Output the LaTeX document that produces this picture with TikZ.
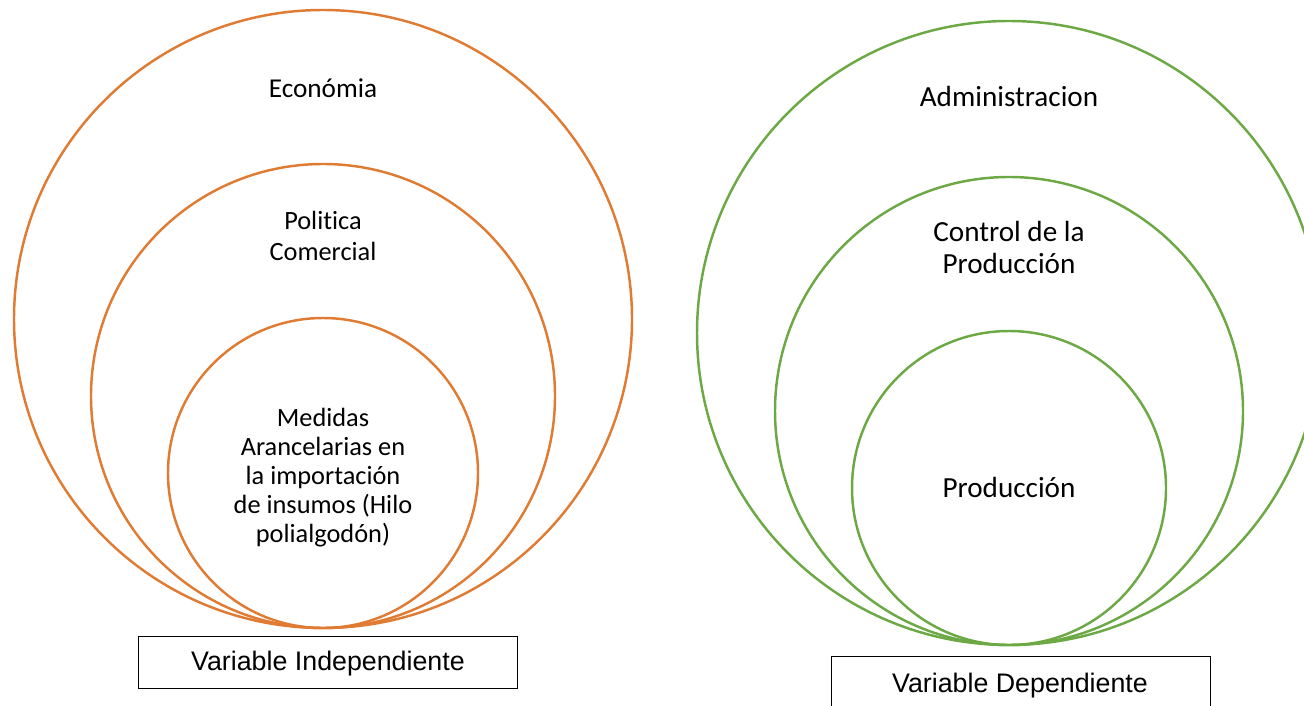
\documentclass[tikz,border=0pt]{standalone}
\usepackage{fontspec}
\setmainfont{Carlito}[Ligatures=NoCommon]
\newfontfamily\arialfont{Liberation Sans}
\definecolor{orng}{HTML}{E07B34}
\definecolor{grn}{HTML}{6CA844}
\begin{document}
\begin{tikzpicture}[x=0.02cm,y=-0.02cm,
  ring/.style={circle,draw,line width=1.4pt,inner sep=0pt,outer sep=0pt},
  lefttxt/.style={anchor=base,align=center,inner sep=0pt,font=\fontsize{15}{16.5}\selectfont},
  righttxt/.style={anchor=base,align=center,inner sep=0pt,font=\fontsize{16.6}{17.9}\selectfont},
  boxtxt/.style={anchor=base,inner sep=0pt,font=\arialfont\fontsize{15.25}{17}\selectfont},
  varbox/.style={draw,line width=0.6pt,inner sep=0pt,minimum width=379*0.02cm,minimum height=52*0.02cm}]
\useasboundingbox (0,0) rectangle (1304,706);
% left
\node[ring,draw=orng,minimum size=618*0.02cm] (eco) at (323,319) {};
\node[ring,draw=orng,minimum size=464*0.02cm] (pol) at (323,396) {};
\node[ring,draw=orng,minimum size=310*0.02cm] (med) at (323,473) {};
\node[lefttxt,font=\fontsize{15.5}{17}\selectfont] (ecot) at (323,97) {Económia};
\node[lefttxt,font=\fontsize{15}{17.6}\selectfont] (polt) at (323,260) {Politica\\Comercial};
\node[lefttxt] (medt) at (323,542) {Medidas\\Arancelarias en\\la importación\\de insumos (Hilo\\polialgodón)};
\node[varbox,anchor=north west] (vi) at (138,636) {};
\node[boxtxt] (vit) at (328,670) {Variable Independiente};
% right
\node[ring,draw=grn,minimum size=624*0.02cm] (adm) at (1009,333) {};
\node[ring,draw=grn,minimum size=468*0.02cm] (con) at (1009,411) {};
\node[ring,draw=grn,minimum size=314*0.02cm] (pro) at (1009,488) {};
\node[righttxt] (admt) at (1009,107) {Administracion};
\node[righttxt] (cont) at (1009,273) {Control de la\\Producción};
\node[righttxt] (prot) at (1009,497) {Producción};
\node[varbox,anchor=north west] (vd) at (831,656) {};
\node[boxtxt] (vdt) at (1020,692) {Variable Dependiente};
\end{tikzpicture}
\end{document}
